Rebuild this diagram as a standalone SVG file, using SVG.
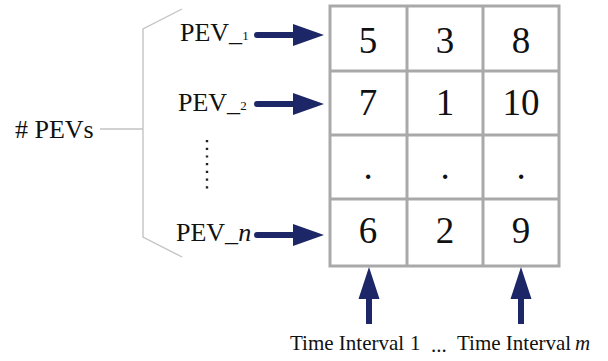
<svg xmlns="http://www.w3.org/2000/svg" xmlns:xlink="http://www.w3.org/1999/xlink" width="608" height="361" viewBox="0 0 608 361">
<style>
text{font-family:"Liberation Serif","Times New Roman",serif;fill:#111}
.num{font-size:37px;text-anchor:middle}
.lbl{font-size:26px}
.sub{font-size:13px}
.cap{font-size:21px}
.grid{fill:none;stroke:#a9a9a9;stroke-width:3}
.brace{fill:none;stroke:#c4c4c4;stroke-width:1.4}
.arr{fill:#1d2667}
</style>
<defs>
<path id="rarrow" d="M-67,-3 H-31 V-11 L0,0 L-31,11 V3 H-67 A3,3 0 0 1 -67,-3 Z"/>
<path id="uarrow" d="M0,0 L10.5,32 H3 V57 H-3 V32 H-10.5 Z"/>
</defs>
<g id="matrix">
<rect class="grid" x="330" y="6" width="229" height="260"/>
<path class="grid" d="M407,6 V266 M483,6 V266 M330,71 H559 M330,135 H559 M330,199 H559"/>
<text class="num" x="368" y="53">5</text><text class="num" x="445" y="53">3</text><text class="num" x="521" y="53">8</text>
<text class="num" x="368" y="115">7</text><text class="num" x="445" y="115">1</text><text class="num" x="521" y="115">10</text>
<text class="num" x="368" y="179">.</text><text class="num" x="445" y="179">.</text><text class="num" x="521" y="179">.</text>
<text class="num" x="368" y="243">6</text><text class="num" x="445" y="243">2</text><text class="num" x="521" y="243">9</text>
</g>
<g id="pevs-label">
<text class="lbl" x="15" y="138"># PEVs</text>
</g>
<g id="brace">
<path class="brace" d="M100,129 H143 M182,9 L143,29 V237 L182,257"/>
</g>
<g id="pev1"><text class="lbl" x="180" y="41">PEV_<tspan class="sub" dy="-1">1</tspan></text></g>
<g id="pev2"><text class="lbl" x="178" y="111">PEV_<tspan class="sub" dy="-1">2</tspan></text></g>
<g id="ellipsis"><path d="M207,140 V194" stroke="#222" stroke-width="2.4" stroke-dasharray="2.2,5.5" fill="none"/></g>
<g id="pevn"><text class="lbl" x="176" y="241">PEV_<tspan font-style="italic">n</tspan></text></g>
<g id="connectors">
<use xlink:href="#rarrow" class="arr" transform="translate(324,35)"/>
<use xlink:href="#rarrow" class="arr" transform="translate(324,104)"/>
<use xlink:href="#rarrow" class="arr" transform="translate(324,235)"/>
<use xlink:href="#uarrow" class="arr" transform="translate(369,267)"/>
<use xlink:href="#uarrow" class="arr" transform="translate(521,267)"/>
</g>
<g id="time-label">
<text class="cap" x="290" y="350">Time Interval</text>
<text class="cap" x="410" y="350">1</text>
<text class="cap" x="431" y="352">...</text>
<text class="cap" x="457" y="350">Time Interval</text>
<text class="cap" x="575" y="350" font-style="italic">m</text>
</g>
</svg>
